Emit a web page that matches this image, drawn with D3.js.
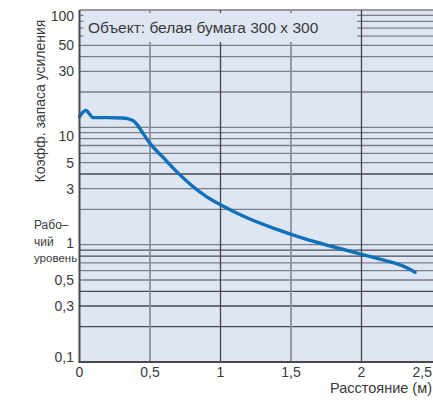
<!DOCTYPE html>
<html>
<head>
<meta charset="utf-8">
<script src="https://cdn.jsdelivr.net/npm/d3@7"></script>
<style>
  html, body { margin: 0; padding: 0; background: #fff; }
  svg { display: block; font-family: "Liberation Sans", Arial, sans-serif; }
</style>
</head>
<body>
<svg id="chart" width="433" height="400"></svg>
<script>
// distance (m) and gain margin
const distance = [0, 0.044, 0.098, 0.2, 0.3, 0.34, 0.38, 0.41, 0.45, 0.5, 0.6, 0.7, 0.8, 0.9, 1.0, 1.1, 1.2, 1.4, 1.6, 1.8, 2.0, 2.2, 2.3, 2.38]
const margin   = [12.3, 13.9, 12.1, 12.1, 12.0, 11.85, 11.4, 10.5, 8.9, 7.3, 5.43, 4.07, 3.16, 2.57, 2.19, 1.9, 1.67, 1.35, 1.12, 0.96, 0.828, 0.716, 0.653, 0.582]

const yTickValues = [100, 50, 30, 10, 5, 3, 1, 0.5, 0.3, 0.1]
const xTickValues = [0, 0.5, 1, 1.5, 2, 2.5]
const yGridValues = [0.2, 0.3, 0.4, 0.5, 0.6, 0.7, 0.8, 0.9, 1, 2, 3, 4, 5, 6, 7, 8, 9, 10, 20, 30, 40, 50, 60, 70, 80, 90, 100]
const workLabel = ["Рабо–", "чий", "уровень"]
const legendText = "Объект: белая бумага 300 x 300"
const yTitle = "Коэфф. запаса усиления"
const xTitle = "Расстояние (м)"

const pLeft = 79.5, pRight = 433, pTop = 10, pBottom = 362
const bg = "#dfe6f3"
const textColor = "#3a3a3a"

const svg = d3.select("#chart")

const x = d3.scaleLinear().domain([0, 2.5]).range([pLeft, 432])
const y = d3.scaleLog().domain([0.1, 100]).range([pBottom, pTop])

const fmt = v => String(v).replace(".", ",")

// panel
svg.append("rect")
    .attr("x", pLeft).attr("y", pTop)
    .attr("width", pRight - pLeft).attr("height", pBottom - pTop)
    .attr("fill", bg)

// horizontal grid
svg.append("g")
    .selectAll("line")
    .data(yGridValues)
    .join("line")
    .attr("x1", pLeft).attr("x2", pRight)
    .attr("y1", d => y(d)).attr("y2", d => y(d))
    .attr("stroke", d => [4, 0.9, 0.8, 0.4, 0.3, 0.2].includes(d) ? "#4a4a50" : "#7c7e88")
    .attr("stroke-width", 1.3)

// vertical grid
svg.append("g")
    .selectAll("line")
    .data(xTickValues.filter(d => d > 0 && d < 2.5))
    .join("line")
    .attr("x1", d => x(d)).attr("x2", d => x(d))
    .attr("y1", pTop).attr("y2", pBottom)
    .attr("stroke", d => Number.isInteger(d) ? "#45454a" : "#8d909a")
    .attr("stroke-width", d => Number.isInteger(d) ? 1.3 : 1.8)

// legend box hides the grid behind it
svg.append("rect")
    .attr("x", 83.5).attr("y", 13)
    .attr("width", 273.5).attr("height", 29)
    .attr("fill", bg)

svg.append("text")
    .attr("x", 88).attr("y", 33)
    .attr("font-size", 15.5)
    .attr("fill", textColor)
    .text(legendText)

// curve
const pts = distance.map((d, i) => [d, margin[i]])
svg.append("path")
    .datum(pts)
    .attr("fill", "none")
    .attr("stroke", "#1070bb")
    .attr("stroke-width", 3.4)
    .attr("stroke-linecap", "round")
    .attr("d", d3.line().x(d => x(d[0])).y(d => y(d[1])).curve(d3.curveMonotoneX))

// axis lines
svg.append("line")
    .attr("x1", pLeft).attr("x2", pLeft)
    .attr("y1", pTop).attr("y2", pBottom + 1)
    .attr("stroke", "#4a4a4a").attr("stroke-width", 2)
svg.append("line")
    .attr("x1", pLeft - 1).attr("x2", pRight)
    .attr("y1", pBottom).attr("y2", pBottom)
    .attr("stroke", "#4a4a4a").attr("stroke-width", 2)

// y tick labels (a few nudged like in the print)
const nudge = {100: 6, 10: 9, 1: -2, 0.1: -5}
svg.append("g")
    .selectAll("text")
    .data(yTickValues)
    .join("text")
    .attr("x", 74)
    .attr("y", d => y(d) + (nudge[d] || 0))
    .attr("dy", "0.36em")
    .attr("text-anchor", "end")
    .attr("font-size", 14)
    .attr("fill", textColor)
    .text(fmt)

// x tick labels
svg.append("g")
    .selectAll("text")
    .data(xTickValues)
    .join("text")
    .attr("x", d => d === 2.5 ? 432 : x(d))
    .attr("y", 377)
    .attr("text-anchor", d => d === 2.5 ? "end" : "middle")
    .attr("font-size", 14)
    .attr("fill", textColor)
    .text(fmt)

svg.append("text")
    .attr("x", 432).attr("y", 393)
    .attr("text-anchor", "end")
    .attr("font-size", 14.5)
    .attr("fill", textColor)
    .text(xTitle)

svg.append("text")
    .attr("transform", "translate(45,101) rotate(-90)")
    .attr("text-anchor", "middle")
    .attr("font-size", 14)
    .attr("fill", textColor)
    .text(yTitle)

svg.append("g")
    .selectAll("text")
    .data(workLabel)
    .join("text")
    .attr("x", 34)
    .attr("y", (d, i) => 229 + i * 16.5)
    .attr("font-size", d => d.length > 5 ? 11.5 : 12)
    .attr("fill", textColor)
    .text(d => d)
</script>
</body>
</html>
